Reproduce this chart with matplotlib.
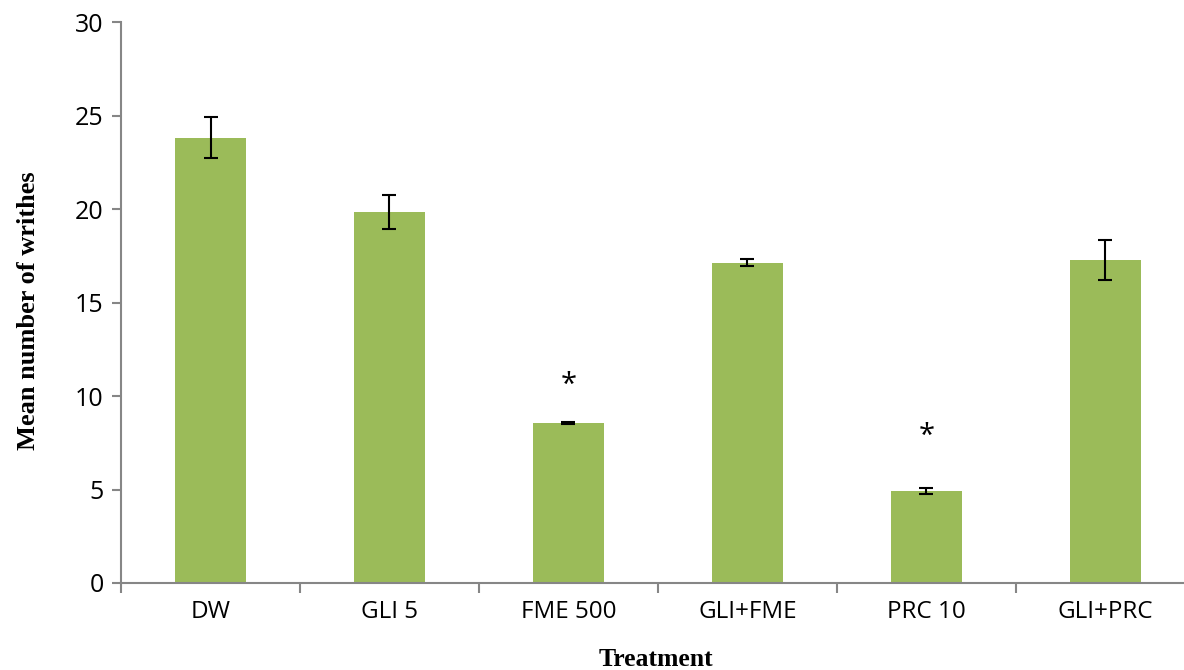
import matplotlib.pyplot as plt
import numpy as np
from matplotlib.ticker import FixedLocator, NullFormatter

# mean writhing counts per treatment group with SEM
treatments = ['DW', 'GLI 5', 'FME 500', 'GLI+FME', 'PRC 10', 'GLI+PRC']
means = [23.83, 19.85, 8.58, 17.13, 4.91, 17.28]
sem = [1.12, 0.90, 0.05, 0.20, 0.16, 1.06]
# significance marks (* above selected groups)
star_idx = [2, 4]
star_y = [10.55, 7.85]

bar_color = '#9BBB59'
axis_color = '#868686'
tick_font = 'Open Sans'

fig = plt.figure(figsize=(11.84, 6.70), dpi=100)
ax = fig.add_axes([0.1022, 0.1299, 0.898, 0.837])

x = np.arange(len(treatments))
ax.bar(x, means, width=0.4, color=bar_color, zorder=2)
ax.errorbar(x, means, yerr=sem, fmt='none', ecolor='black', elinewidth=1.5,
            capsize=5, capthick=1.5, zorder=3)

for i, y in zip(star_idx, star_y):
    ax.text(x[i], y, '*', ha='center', va='center', fontsize=21,
            family=tick_font, color='black')

ax.set_ylim(0, 30)
ax.set_xlim(-0.5, 5.44)
ax.set_yticks(np.arange(0, 31, 5))

# category boundary ticks, labels at bar centres
ax.xaxis.set_major_locator(FixedLocator(np.arange(-0.5, 6, 1.0)))
ax.xaxis.set_major_formatter(NullFormatter())
ax.xaxis.set_minor_locator(FixedLocator(x))
ax.set_xticklabels(treatments, minor=True)
ax.tick_params(axis='x', which='major', length=7, width=1.5, color=axis_color)
ax.tick_params(axis='x', which='minor', length=0, pad=12, labelsize=17.5)
ax.tick_params(axis='y', length=6.5, width=1.5, color=axis_color, pad=6,
               labelsize=18)
for lab in ax.get_xticklabels(minor=True) + ax.get_yticklabels():
    lab.set_family(tick_font)

for side in ['top', 'right']:
    ax.spines[side].set_visible(False)
for side in ['left', 'bottom']:
    ax.spines[side].set_color(axis_color)
    ax.spines[side].set_linewidth(1.5)

ax.set_ylabel('Mean number of writhes', family='Liberation Serif',
              fontweight='bold', fontsize=19)
ax.yaxis.set_label_coords(-(121 - 40) / (1184 - 121), 0.485)
fig.text(656 / 1184, 4 / 670, 'Treatment', ha='center', va='baseline',
         family='Liberation Serif', fontweight='bold', fontsize=18.5)

fig.savefig('out.png', dpi=100)
